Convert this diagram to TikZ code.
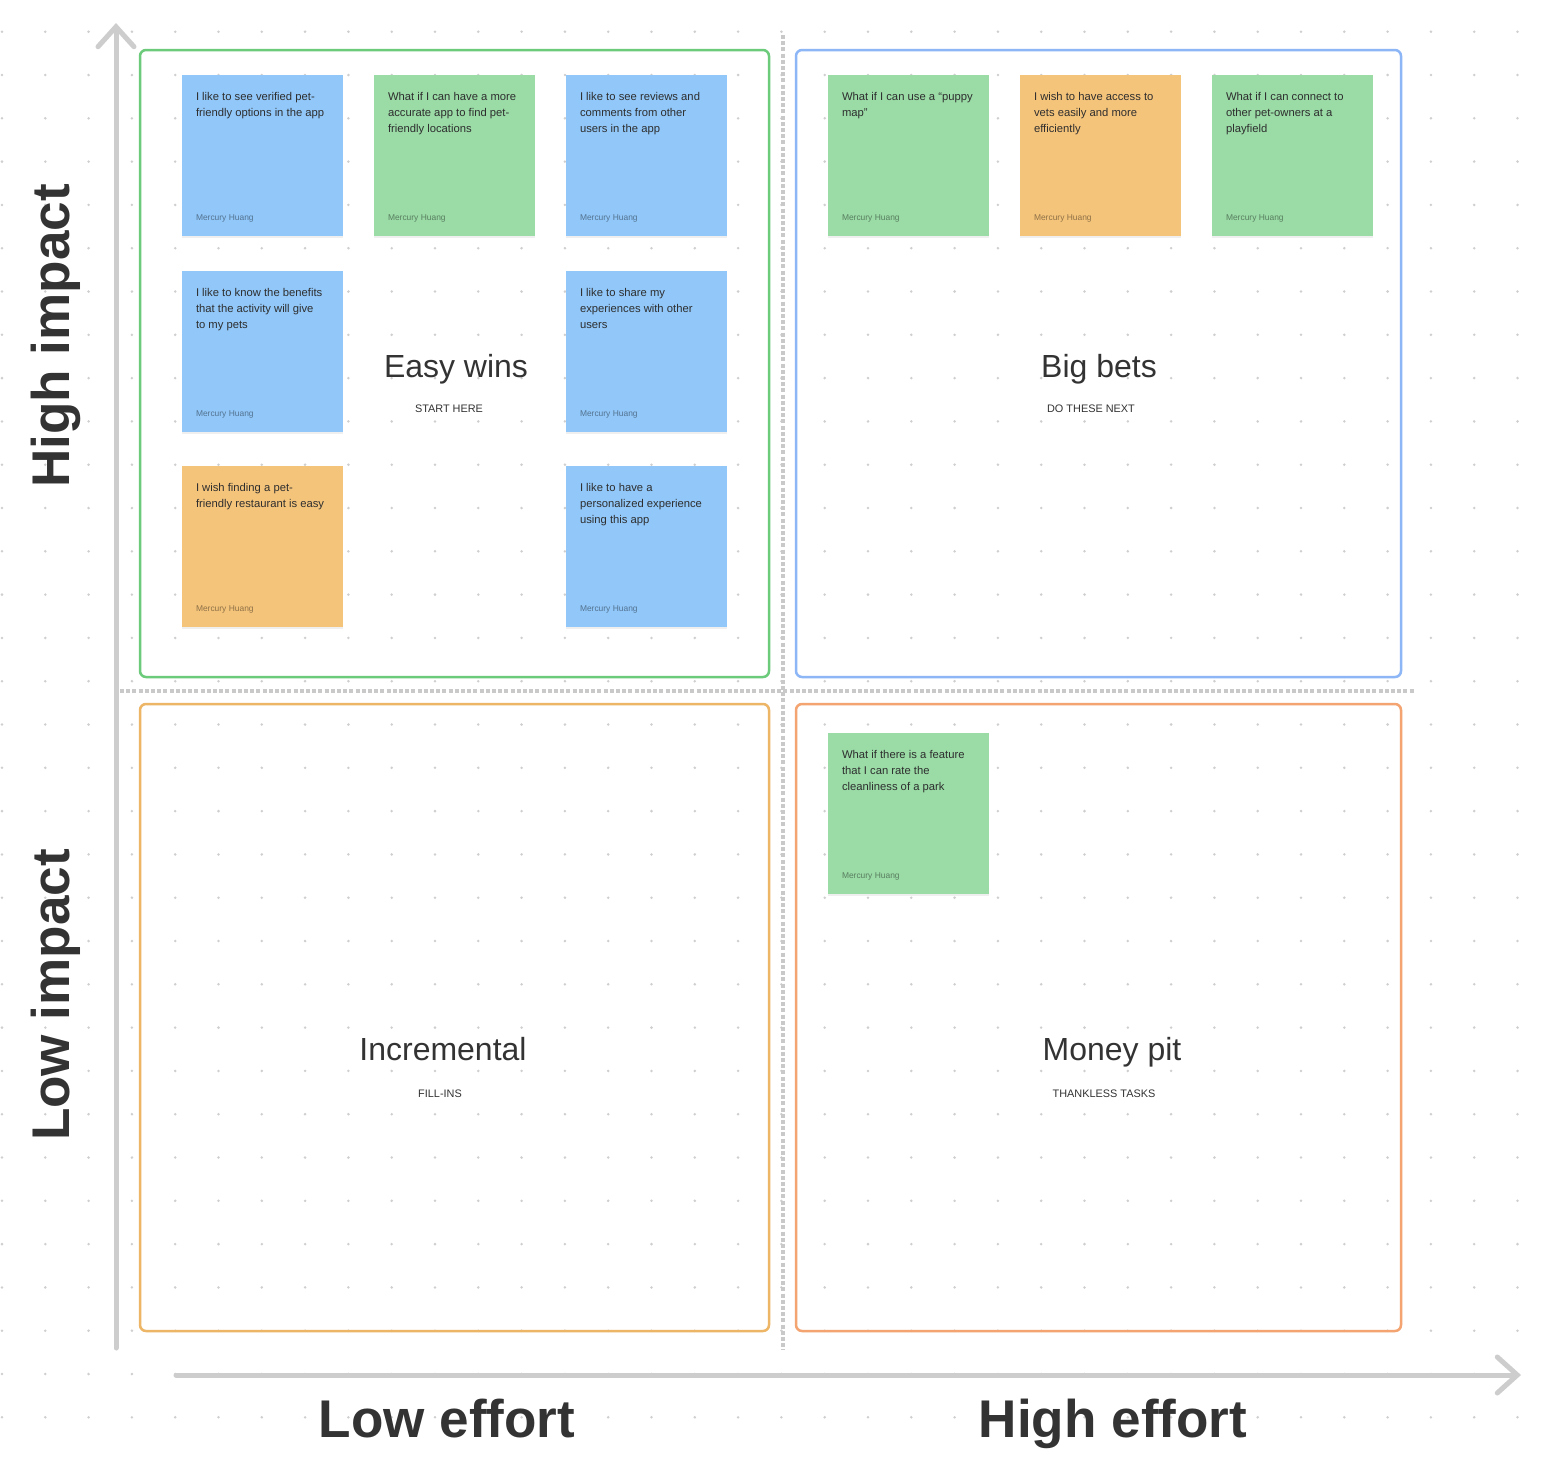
\documentclass[tikz,border=0pt]{standalone}
\usepackage{fontspec}
\setmainfont{Liberation Sans}
\usetikzlibrary{arrows.meta,shadows}
\definecolor{dotc}{HTML}{CFCFCF}
\definecolor{axisc}{HTML}{CDCDCD}
\definecolor{divc}{HTML}{C9C9C9}
\definecolor{qgreen}{HTML}{6CCB7B}
\definecolor{qblue}{HTML}{8DB6F7}
\definecolor{qyellow}{HTML}{EDB566}
\definecolor{qsalmon}{HTML}{F3A471}
\definecolor{nblue}{HTML}{91C7F9}
\definecolor{ngreen}{HTML}{9ADBA6}
\definecolor{norange}{HTML}{F5C47B}
\definecolor{inkc}{HTML}{2E2E2E}
\definecolor{titlec}{HTML}{333333}
\begin{document}
\begin{tikzpicture}[x=0.1mm,y=-0.1mm,
  note/.style={rectangle, minimum width=16.1mm, minimum height=16.1mm, inner sep=0pt,
    drop shadow={shadow xshift=0pt, shadow yshift=-0.7pt, opacity=0.12}},
  notetxt/.style={anchor=north west, inner sep=0pt, align=left, text=inkc,
    font=\fontsize{3.2pt}{4.55pt}\selectfont},
  author/.style={anchor=base west, inner sep=0pt, text=black, text opacity=0.42,
    font=\fontsize{2.4pt}{3pt}\selectfont},
  quad/.style={rectangle, rounded corners=0.6mm, line width=0.25mm, inner sep=0pt},
  title/.style={anchor=base, inner sep=0pt, text=titlec, font=\fontsize{9.1pt}{11pt}\selectfont},
  subtitle/.style={anchor=base, inner sep=0pt, text=titlec, font=\fontsize{3.1pt}{4pt}\selectfont},
  axislabel/.style={anchor=base, inner sep=0pt, text=titlec, font=\fontsize{15.1pt}{18pt}\selectfont\bfseries},
  axisline/.style={draw=axisc, line width=0.5mm, line cap=round,
    -{Straight Barb[length=2mm, width=3.6mm, line cap=round]}},
  divider/.style={draw=divc, line width=0.4mm, dash pattern=on 0.4mm off 0.22mm}
]
\useasboundingbox (0,0) rectangle (1548,1459);
\fill[white] (0,0) rectangle (1548,1459);
% dot grid
\foreach \i in {0,...,35}{\foreach \j in {0,...,32}{
  \fill[dotc] ({2+43.3*\i},{31.7+43.3*\j}) circle (1.4);}}
% dividers
\coordinate (hl) at (120,691); \coordinate (hr) at (1415,691);
\coordinate (vt) at (783,35); \coordinate (vb) at (783,1350);
\draw[divider] (hl) -- (hr);
\draw[divider] (vt) -- (vb);
% quadrants
\node[quad, draw=qgreen, minimum width=62.9mm, minimum height=62.7mm] (q1) at (454.5,363.5) {};
\node[quad, draw=qblue, minimum width=60.5mm, minimum height=62.7mm] (q2) at (1098.5,363.5) {};
\node[quad, draw=qyellow, minimum width=62.9mm, minimum height=62.7mm] (q3) at (454.5,1017.5) {};
\node[quad, draw=qsalmon, minimum width=60.5mm, minimum height=62.7mm] (q4) at (1098.5,1017.5) {};
% axes
\coordinate (yb) at (116,1348); \coordinate (yt) at (116,23);
\coordinate (xl) at (176,1375); \coordinate (xr) at (1521,1375);
\draw[axisline] (yb) -- (yt);
\draw[axisline] (xl) -- (xr);
% notes
\newcommand\stickynote[5]{%
  \node[note, fill=#3] (#1) at (#2) {};
  \node[notetxt] (#1t) at ([xshift=1.4mm, yshift=-1.7mm]#1.north west) {#4};
  \node[author] (#1a) at ([xshift=1.4mm, yshift=1.6mm]#1.south west) {#5};}
\stickynote{n1}{262.5,155.5}{nblue}{I like to see verified pet-\\friendly options in the app}{Mercury Huang}
\stickynote{n2}{454.5,155.5}{ngreen}{What if I can have a more\\accurate app to find pet-\\friendly locations}{Mercury Huang}
\stickynote{n3}{646.5,155.5}{nblue}{I like to see reviews and\\comments from other\\users in the app}{Mercury Huang}
\stickynote{n4}{262.5,351.5}{nblue}{I like to know the benefits\\that the activity will give\\to my pets}{Mercury Huang}
\stickynote{n5}{646.5,351.5}{nblue}{I like to share my\\experiences with other\\users}{Mercury Huang}
\stickynote{n6}{262.5,546.5}{norange}{I wish finding a pet-\\friendly restaurant is easy}{Mercury Huang}
\stickynote{n7}{646.5,546.5}{nblue}{I like to have a\\personalized experience\\using this app}{Mercury Huang}
\stickynote{n8}{908.5,155.5}{ngreen}{What if I can use a “puppy\\map”}{Mercury Huang}
\stickynote{n9}{1100.5,155.5}{norange}{I wish to have access to\\vets easily and more\\efficiently}{Mercury Huang}
\stickynote{n10}{1292.5,155.5}{ngreen}{What if I can connect to\\other pet-owners at a\\playfield}{Mercury Huang}
\stickynote{n11}{908.5,813.5}{ngreen}{What if there is a feature\\that I can rate the\\cleanliness of a park}{Mercury Huang}
% quadrant titles
\node[title] (t1) at (456,377) {Easy wins};
\node[subtitle] (s1) at (449,412) {START HERE};
\node[title] (t2) at (1099,377) {Big bets};
\node[subtitle] (s2) at (1091,412) {DO THESE NEXT};
\node[title] (t3) at (443,1060) {Incremental};
\node[subtitle] (s3) at (440,1097) {FILL-INS};
\node[title] (t4) at (1112,1060) {Money pit};
\node[subtitle] (s4) at (1104,1097) {THANKLESS TASKS};
% axis labels
\node[axislabel, rotate=90] (la1) at (69,336) {High impact};
\node[axislabel, rotate=90] (la2) at (69,995) {Low impact};
\node[axislabel] (la3) at (447,1437) {Low effort};
\node[axislabel] (la4) at (1113,1437) {High effort};
\end{tikzpicture}
\end{document}
